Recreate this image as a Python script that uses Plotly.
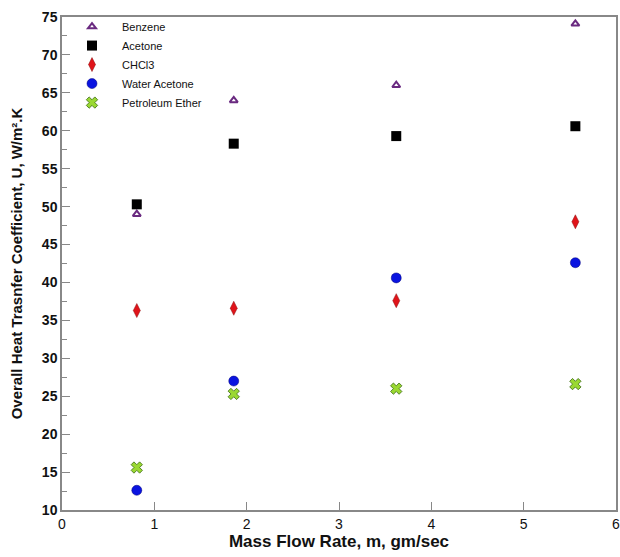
import plotly.graph_objects as go

flow = [0.81, 1.86, 3.62, 5.56]
benzene = [49.0, 64.0, 66.0, 74.1]
acetone = [50.3, 58.3, 59.3, 60.6]
chcl3 = [36.3, 36.6, 37.6, 48.0]
water_acetone = [12.6, 27.0, 40.6, 42.6]
petroleum_ether = [15.6, 25.3, 26.0, 26.6]

x_ticks = [0, 1, 2, 3, 4, 5, 6]
y_ticks = [10, 15, 20, 25, 30, 35, 40, 45, 50, 55, 60, 65, 70, 75]

fig = go.Figure()
fig.add_trace(go.Scatter(x=flow, y=benzene, mode="markers", name="Benzene",
                         marker=dict(symbol="triangle-up", size=7, color="white",
                                     line=dict(color="#6a2a80", width=2))))
fig.add_trace(go.Scatter(x=flow, y=acetone, mode="markers", name="Acetone",
                         marker=dict(symbol="square", size=10, color="black",
                                     line=dict(color="black", width=0))))
fig.add_trace(go.Scatter(x=flow, y=chcl3, mode="markers", name="CHCl3",
                         marker=dict(symbol="diamond-tall", size=10, color="#e0141a",
                                     line=dict(color="#8a1010", width=0.5))))
fig.add_trace(go.Scatter(x=flow, y=water_acetone, mode="markers", name="Water Acetone",
                         marker=dict(symbol="circle", size=10, color="#0a14e0",
                                     line=dict(color="#00007a", width=0.5))))
fig.add_trace(go.Scatter(x=flow, y=petroleum_ether, mode="markers", name="Petroleum Ether",
                         marker=dict(symbol="x", size=10, color="#9ad832",
                                     line=dict(color="#3a6a10", width=0.8))))

fig.update_layout(
    width=620, height=557,
    margin=dict(l=62, r=4, t=17, b=47, autoexpand=False),
    plot_bgcolor="white", paper_bgcolor="white",
    font=dict(family="Liberation Sans, Arial, sans-serif", color="#111"),
    legend=dict(x=0.0, y=1.01, xanchor="left", yanchor="top",
                bgcolor="rgba(0,0,0,0)", font=dict(size=11),
                itemwidth=50, tracegroupgap=0),
    showlegend=True,
)
fig.update_xaxes(range=[0, 6], tickvals=x_ticks, ticktext=[str(v) for v in x_ticks],
                 ticks="inside", ticklen=8, tickcolor="#888",
                 ticklabeloverflow="allow",
                 showgrid=False, zeroline=False, showline=True, linecolor="#888",
                 linewidth=1.5, mirror=True, automargin=False,
                 tickfont=dict(size=14),
                 title=dict(text="<b>Mass Flow Rate, m, gm/sec</b>", font=dict(size=17), standoff=3))
fig.update_yaxes(range=[10, 75], tickvals=y_ticks, ticktext=[f"<b>{v}</b>" for v in y_ticks],
                 ticks="inside", ticklen=8, tickcolor="#888",
                 minor=dict(dtick=2.5, ticks="inside", ticklen=5, tickcolor="#888"),
                 showgrid=False, zeroline=False, showline=True, linecolor="#888",
                 linewidth=1.5, mirror=True, automargin=False,
                 tickfont=dict(size=14),
                 title=dict(text="<b>Overall Heat Trasnfer Coefficient, U, W/m².K</b>", font=dict(size=15), standoff=16))

fig.write_html("out.html", config={"displayModeBar": False},
               post_script="document.body.style.margin='0';document.body.style.overflow='hidden';")
